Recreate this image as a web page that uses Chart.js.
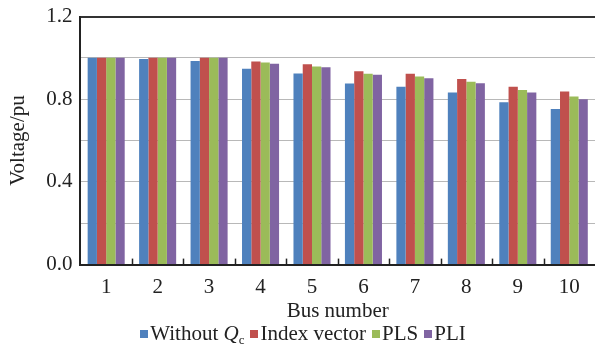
<!DOCTYPE html>
<html>
<head>
<meta charset="utf-8">
<script src="https://cdn.jsdelivr.net/npm/chart.js@4.4.0/dist/chart.umd.min.js"></script>
<style>
  html, body { margin: 0; padding: 0; background: #fff; }
  #wrap { position: relative; width: 595px; height: 351px; }
  #legend {
    position: absolute; left: 0; width: 612px; top: 321px;
    display: flex; justify-content: center; align-items: center;
    font-family: "Liberation Serif", serif; font-size: 21px; color: #222;
  }
  #legend span.item { display: flex; align-items: center; margin-right: 6px; }
  #legend span.box { width: 8px; height: 8px; margin-right: 2px; display: inline-block; }
  #legend sub { font-size: 13px; position: relative; top: 6px; }
</style>
</head>
<body>
<div id="wrap">
  <canvas id="myChart" width="595" height="351"></canvas>
  <div id="legend"></div>
</div>
<script>
// bus numbers and voltages (pu) for each method
var buses = ["1", "2", "3", "4", "5", "6", "7", "8", "9", "10"];
var withoutQc = [1.000, 0.995, 0.985, 0.947, 0.924, 0.876, 0.860, 0.832, 0.785, 0.753];
var indexVector = [1.000, 1.000, 1.000, 0.982, 0.969, 0.935, 0.923, 0.898, 0.860, 0.837];
var pls = [1.000, 1.000, 1.000, 0.977, 0.958, 0.923, 0.910, 0.885, 0.845, 0.813];
var pli = [1.000, 1.000, 1.000, 0.972, 0.955, 0.918, 0.901, 0.877, 0.832, 0.800];
var seriesNames = ["Without&nbsp;<i>Q</i><sub>c</sub>", "Index vector", "PLS", "PLI"];
var seriesLabels = ["Without Qc", "Index vector", "PLS", "PLI"];
var barColors = ["#4F81BD", "#C0504D", "#9BBB59", "#8064A2"];

var font = "'Liberation Serif', 'Times New Roman', serif";

// small tick marks pointing up into the plot, between the buses
var innerTicks = {
  id: "innerTicks",
  afterDatasetsDraw(chart) {
    var xs = chart.scales.x, ctx = chart.ctx;
    var bottom = chart.chartArea.bottom;
    ctx.save();
    ctx.strokeStyle = "#222";
    ctx.lineWidth = 1.5;
    for (var i = 1; i < buses.length; i++) {
      var x = Math.round((xs.getPixelForValue(i - 1) + xs.getPixelForValue(i)) / 2) + 0.5;
      ctx.beginPath();
      ctx.moveTo(x, bottom);
      ctx.lineTo(x, bottom - 6);
      ctx.stroke();
    }
    ctx.restore();
  }
};

var allData = [withoutQc, indexVector, pls, pli];

new Chart("myChart", {
  type: "bar",
  data: {
    labels: buses,
    datasets: allData.map(function (d, i) {
      return {
        label: seriesLabels[i],
        data: d,
        backgroundColor: barColors[i],
        borderWidth: 0,
        categoryPercentage: 0.72,
        barPercentage: 1.0
      };
    })
  },
  plugins: [innerTicks],
  options: {
    responsive: false,
    animation: false,
    layout: { padding: { left: 6, top: 0, right: 0, bottom: 27 } },
    plugins: {
      legend: { display: false },
      tooltip: { enabled: false }
    },
    scales: {
      x: {
        grid: { display: false, drawTicks: false },
        border: { display: true, color: "#222", width: 2 },
        ticks: { color: "#222", font: { family: font, size: 21 }, padding: 10, maxRotation: 0 },
        title: {
          display: true, text: "Bus number", color: "#222",
          font: { family: font, size: 21 }, padding: { top: -11, bottom: 0 }
        }
      },
      y: {
        min: 0, max: 1.2,
        grid: {
          drawTicks: false,
          color: function (c) { return Math.abs(c.tick.value - 1.2) < 1e-6 ? "#333" : "#b8b8b8"; },
          lineWidth: function (c) { return Math.abs(c.tick.value - 1.2) < 1e-6 ? 2 : 1; }
        },
        border: { display: true, color: "#222", width: 2 },
        ticks: {
          stepSize: 0.2, color: "#222", padding: 8,
          font: { family: font, size: 21, lineHeight: 0.81 },
          callback: function (v) {
            var k = Math.round(v / 0.2);
            return k % 2 === 0 ? (k * 0.2).toFixed(1) : "";
          }
        },
        title: {
          display: true, text: "Voltage/pu", color: "#222",
          font: { family: font, size: 21 }, padding: { top: 0, bottom: 7 }
        }
      }
    }
  }
});

var legend = document.getElementById("legend");
seriesNames.forEach(function (name, i) {
  legend.innerHTML += '<span class="item"><span class="box" style="background:' + barColors[i] + '"></span>' + name + '</span>';
});
</script>
</body>
</html>
